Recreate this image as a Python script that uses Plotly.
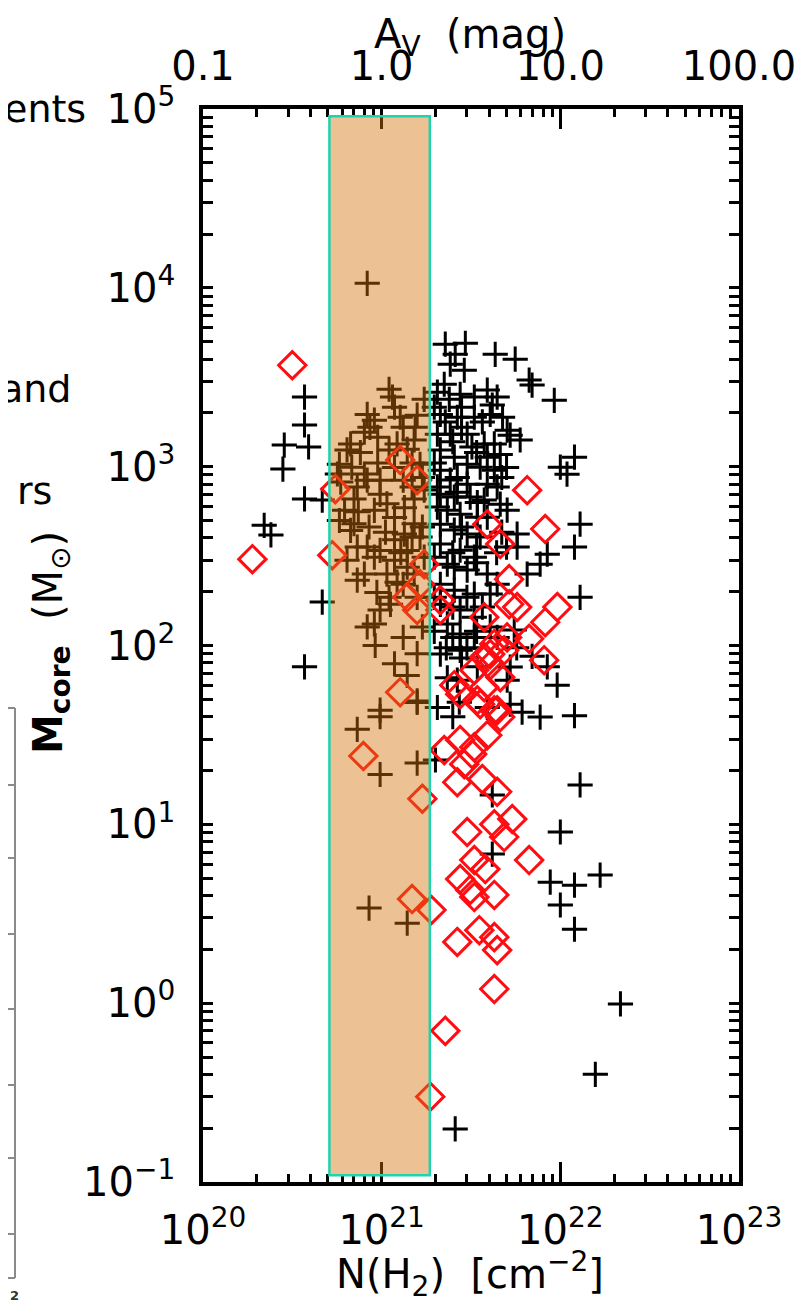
import plotly.graph_objects as go

# ---------------- data ----------------
cross_nh2 = [
    3.7e20, 3.7e20, 2.85e20, 3.9e20, 2.8e20, 3.7e20, 4.65e20, 2.2e20, 2.4e20, 4.65e20, 3.7e20,
    8.3e20, 1.1e21, 1.15e21, 8.3e20, 9.1e20, 8.6e20, 8.0e20, 1.18e21, 1.27e21, 1.58e21,
    1.73e21, 1.54e21, 6.7e20, 6.4e20, 5.8e20, 5.65e20, 8.0e20, 8.3e20, 9.8e20, 1.1e21,
    1.22e21, 1.39e21, 1.52e21, 1.64e21, 1.18e21, 9.8e20, 1.07e21, 9.1e20, 7.0e20, 6.2e20,
    5.8e20, 6.7e20, 1.18e21, 1.34e21, 1.52e21, 1.73e21, 1.52e21, 1.34e21, 1.18e21, 9.8e20,
    8.3e20, 9.1e20, 1.39e21, 1.64e21, 1.73e21, 1.18e21, 1.39e21, 7.3e20, 8.0e20, 1.07e21,
    1.52e21, 1.12e21, 9.8e20, 9.1e20, 1.1e21, 9.2e20, 1.18e21, 1.39e21, 1.58e21, 1.58e21,
    9.8e20, 9.8e20, 7.3e20, 9.8e20, 1.58e21, 1.58e21, 8.5e20, 1.39e21, 7.3e20, 1.32e21,
    1.48e21, 1.32e21, 7.0e20,
    5.9e20, 6.8e20, 7.6e20, 9.5e20, 1.32e21, 1.48e21, 1.69e21, 9.5e20, 7.4e20, 8.5e20,
    1.05e21, 1.28e21, 1.48e21, 9.4e20, 1.22e21, 1.58e21, 1.69e21, 7.3e20, 6.4e20, 8.3e20,
    1.32e21, 1.69e21,
    2.27e21, 2.94e21, 2.58e21, 2.42e21, 2.9e21, 4.32e21, 5.59e21, 6.69e21, 6.95e21, 9.25e21,
    2.24e21, 2.05e21, 2.39e21, 2.75e21, 3.3e21, 3.9e21, 4.16e21, 4.43e21, 2.13e21, 2.65e21,
    3.3e21, 4.05e21, 5.04e21, 5.24e21, 5.96e21, 2.05e21, 2.42e21, 3.01e21, 3.75e21, 4.27e21,
    4.61e21, 2.13e21, 2.55e21, 3.01e21, 3.56e21, 4.27e21, 2.13e21, 2.42e21, 3.01e21, 3.9e21,
    2.13e21, 2.55e21, 3.13e21, 3.75e21, 4.61e21, 5.04e21, 2.33e21, 2.75e21, 3.43e21, 2.13e21,
    2.55e21, 3.01e21, 3.56e21, 2.13e21, 2.75e21, 3.3e21, 2.33e21, 3.01e21, 3.9e21, 4.43e21,
    2.13e21, 2.55e21, 3.3e21, 4.05e21, 2.13e21, 2.75e21, 3.3e21, 2.33e21, 2.75e21, 3.3e21,
    4.05e21, 5.73e21, 5.73e21, 6.52e21, 7.71e21, 8.45e21, 1.0e22, 1.09e22, 1.2e22, 1.29e22,
    1.2e22, 1.29e22, 5.52e21, 2.13e21, 2.75e21, 5.24e21, 5.04e21, 2.65e21, 2.72e21, 5.24e21,
    6.11e21, 7.71e21, 1.2e22, 2.0e21, 4.16e21, 1.29e22, 1.0e22, 4.16e21, 1.67e22, 8.78e21,
    1.2e22, 1.0e22, 1.2e22, 2.17e22, 1.57e22, 2.58e21,
    2.8e21, 3.4e21, 2.65e21, 4.7e21, 3.4e21, 2.55e21, 5.0e21, 2.8e21, 3.4e21, 2.3e21,
    1.97e21, 2.27e21, 2.8e21, 3.66e21, 4.75e21, 1.97e21, 2.5e21, 3.2e21, 3.9e21, 5.0e21,
    2.05e21, 2.65e21, 3.43e21, 4.43e21, 2.05e21, 2.8e21, 3.9e21, 4.7e21, 1.97e21, 2.5e21,
    3.4e21, 4.4e21, 1.97e21, 2.5e21, 3.0e21, 3.66e21, 1.97e21, 2.5e21, 3.0e21, 3.43e21,
    2.33e21, 4.43e21, 5.7e21, 6.95e21, 2.05e21, 2.5e21, 3.9e21, 8.45e21, 9.6e21,
]
cross_mass = [
    2450, 1710, 1320, 1290, 970, 660, 650, 470, 415, 175, 76,
    10600, 2710, 2450, 1960, 1820, 1660, 1560, 2150, 1890, 1940,
    2380, 1660, 1340, 1240, 1030, 910, 910, 840, 840, 1240,
    1340, 1250, 1410, 1030, 990, 700, 620, 570, 660, 570,
    500, 440, 520, 590, 660, 740, 480, 420, 390, 340,
    355, 312, 340, 404, 312, 300, 274, 232, 251, 251,
    251, 170, 158, 132, 186, 100, 79, 68, 90, 49,
    43.5, 40, 34, 19, 22, 48, 3.4, 2.8, 770, 840,
    770, 220, 480,
    820, 994, 1200, 1460, 1660, 1050, 870, 1050, 560, 460,
    430, 330, 404, 198, 226, 186, 460, 355, 300, 127,
    111, 127,
    4840, 4900, 4250, 3740, 3460, 4250, 3990, 3050, 2860, 2350,
    2890, 2610, 2380, 2540, 2450, 2680, 2210, 2450, 1960, 1890,
    1890, 1960, 1600, 1500, 1410, 1520, 1520, 1520, 1340, 1340,
    1170, 1240, 1130, 1030, 994, 955, 955, 841, 798, 798,
    702, 676, 676, 650, 617, 571, 571, 542, 522, 477,
    442, 420, 404, 369, 341, 312, 285, 264, 251, 220,
    220, 204, 194, 194, 170, 158, 144, 132, 116, 111,
    127, 420, 355, 251, 285, 324, 994, 908, 1130, 477,
    355, 186, 122, 89.5, 94, 75.7, 64, 64, 48.2, 47,
    42.4, 39.8, 40.5, 22.9, 14.6, 16.6, 9.06, 6.82, 5.2, 4.75,
    4.57, 3.54, 2.59, 0.99, 0.40, 0.198,
    1660, 1200, 870, 870, 355, 274, 355, 85, 120, 97,
    2150, 1780, 2150, 1780, 1890, 1050, 1380, 1290, 1130, 990,
    770, 720, 630, 770, 594, 460, 522, 430, 312, 330,
    290, 330, 186, 164, 186, 164, 120, 111, 97, 76,
    66, 111, 97, 87, 45, 40, 45, 76, 60,
]

diamond_nh2 = [
    3.16e20, 1.89e20, 5.29e20, 5.5e20, 1.27e21, 1.58e21, 7.9e20, 1.69e21, 1.48e21, 1.9e21,
    1.87e21, 2.27e21, 4.27e21, 2.65e21, 3.52e21, 4.43e21, 4.27e21, 2.75e21, 3.13e21, 4.27e21,
    3.3e21, 3.01e21, 4.27e21, 5.38e21, 4.85e21, 6.69e21, 3.3e21, 3.8e21, 2.65e21, 3.66e21,
    4.43e21, 2.24e21, 2.75e21, 3.3e21, 3.9e21, 2.9e21, 3.21e21, 3.56e21, 4.61e21, 4.43e21,
    6.52e21, 8.23e21, 3.9e21, 4.61e21, 5.17e21, 5.73e21, 5.17e21, 9.62e21, 8.23e21, 6.69e21,
    8.12e21, 5.04e21, 4.27e21, 3.75e21, 4.05e21, 3.3e21, 3.75e21, 3.43e21, 2.75e21, 2.55e21,
    4.27e21, 1.27e21, 1.58e21, 1.39e21, 1.64e21, 2.13e21, 2.13e21, 1.73e21, 3.75e21, 4.85e21,
    4.05e21, 4.61e21,
]
diamond_mass = [
    3690, 304, 320, 749, 1090, 841, 24.1, 13.9, 3.82, 3.32,
    0.30, 0.70, 1.20, 2.20, 2.56, 1.98, 2.34, 4.94, 4.30, 4.03,
    3.92, 9.06, 10.0, 10.7, 8.49, 6.31, 6.31, 5.62, 17.2, 17.9,
    15.2, 26.0, 29.6, 27.0, 31.5, 21.7, 24.7, 47.0, 39.8, 43.5,
    739, 448, 477, 369, 235, 164, 170, 164, 135, 109,
    82.8, 111, 102, 86.1, 77.6, 72.8, 58.5, 49.4, 53.4, 60.0,
    43.5, 54.8, 158, 186, 220, 179, 158, 285, 144, 94,
    89.5, 66.5,
]

shade_nh2 = [5.1e20, 1.86e21]
shade_mass = [0.109, 9.1e4]

x_tickvals = [1e20, 1e21, 1e22, 1e23]
x_ticktext = ["10<sup>20</sup>", "10<sup>21</sup>", "10<sup>22</sup>", "10<sup>23</sup>"]
y_tickvals = [0.1, 1, 10, 100, 1e3, 1e4, 1e5]
y_ticktext = ["10<sup>\u22121</sup>", "10<sup>0</sup>", "10<sup>1</sup>", "10<sup>2</sup>",
              "10<sup>3</sup>", "10<sup>4</sup>", "10<sup>5</sup>"]
av_tickvals = [0.1, 1, 10, 100]
av_ticktext = ["0.1", "1.0", "10.0", "100.0"]

side_texts = ["ents", "and", "rs"]

# ---------------- layout helpers (pixel -> paper) ----------------
W, H = 807, 1301
L, R, T, B = 195, 731, 101, 1174
FONT = "DejaVu Sans"


def pxx(x):
    return (x - L) / (R - L)


def pxy(y):
    return (B - y) / (B - T)


fig = go.Figure()

fig.add_trace(go.Scatter(
    x=cross_nh2, y=cross_mass, mode="markers",
    marker=dict(symbol="cross-thin-open", size=18, color="black",
                line=dict(width=3, color="black")),
    showlegend=False, hoverinfo="skip",
))
fig.add_trace(go.Scatter(
    x=diamond_nh2, y=diamond_mass, mode="markers",
    marker=dict(symbol="diamond-open", size=21, color="#ff0d12",
                line=dict(width=3, color="#ff0d12")),
    showlegend=False, hoverinfo="skip",
))
# invisible trace that activates the top A_V axis
fig.add_trace(go.Scatter(
    x=[1], y=[1], xaxis="x2", mode="markers",
    marker=dict(opacity=0), showlegend=False, hoverinfo="skip",
))

fig.add_shape(
    type="rect", xref="x", yref="y",
    x0=shade_nh2[0], x1=shade_nh2[1], y0=shade_mass[0], y1=shade_mass[1],
    fillcolor="rgba(211,115,12,0.435)",
    line=dict(color="#1fd3ad", width=2.5),
    layer="above",
)

axis_common = dict(
    showgrid=False, zeroline=False, showline=True, linewidth=3.5, linecolor="black",
    ticks="inside", tickcolor="black", tickwidth=3, mirror="allticks",
    tickmode="array", tickfont=dict(size=40, color="black", family=FONT),
)

fig.update_layout(
    width=W, height=H, autosize=False,
    margin=dict(l=L, r=W - R, t=T, b=H - B, pad=0),
    paper_bgcolor="white", plot_bgcolor="white",
    font=dict(family=FONT, color="black", size=40),
    xaxis=dict(
        type="log", range=[20, 23], tickvals=x_tickvals, ticktext=x_ticktext,
        ticklen=20, ticklabelstandoff=10,
        minor=dict(ticks="inside", ticklen=8, tickwidth=3, tickcolor="black",
                   dtick="D1", showgrid=False),
        **axis_common,
    ),
    xaxis2=dict(
        type="log", range=[-1, 2], overlaying="x", side="top",
        tickmode="array", tickvals=av_tickvals, ticktext=av_ticktext,
        ticks="", showline=False, showgrid=False, zeroline=False,
        tickfont=dict(size=40, color="black", family=FONT),
        ticklabelstandoff=20,
    ),
    yaxis=dict(
        type="log", range=[-1, 5], tickvals=y_tickvals, ticktext=y_ticktext,
        ticklen=10, ticklabelstandoff=16,
        minor=dict(ticks="inside", ticklen=6, tickwidth=3, tickcolor="black",
                   dtick="D1", showgrid=False),
        **axis_common,
    ),
)

annotations = [
    dict(text="N(H<sub>2</sub>)\u00a0 [cm<sup>\u22122</sup>]", x=pxx(462), y=pxy(1266),
         xanchor="center", yanchor="middle", font=dict(size=40)),
    dict(text="A<sub>V</sub>\u00a0 (mag)", x=pxx(462), y=pxy(29),
         xanchor="center", yanchor="middle", font=dict(size=40)),
    dict(text="<b>M<sub>core</sub></b>\u00a0 (M<sub>\u2299</sub>)", x=pxx(43), y=pxy(635),
         xanchor="center", yanchor="middle", textangle=-90, font=dict(size=40)),
    dict(text=side_texts[0], x=pxx(80), y=pxy(101), xanchor="right", yanchor="middle",
         font=dict(size=38)),
    dict(text=side_texts[1], x=pxx(66), y=pxy(381), xanchor="right", yanchor="middle",
         font=dict(size=38)),
    dict(text=side_texts[2], x=pxx(46), y=pxy(483), xanchor="right", yanchor="middle",
         font=dict(size=38)),
    dict(text="<b>2</b>", x=pxx(6), y=pxy(1287), xanchor="center", yanchor="middle",
         font=dict(size=13, color="#333")),
]
for a in annotations:
    a.update(xref="paper", yref="paper", showarrow=False)
fig.update_layout(annotations=annotations)

# fragment of a neighbouring panel at the far left edge
frag = dict(type="line", xref="paper", yref="paper", line=dict(color="#8a8a8a", width=2))
fig.add_shape(x0=pxx(7), x1=pxx(7), y0=pxy(700), y1=pxy(1270), **frag)
for yy in [700, 777, 850, 926, 1001, 1077, 1150, 1226, 1270]:
    fig.add_shape(x0=pxx(0), x1=pxx(7), y0=pxy(yy), y1=pxy(yy), **frag)

fig.write_html("out.html")
